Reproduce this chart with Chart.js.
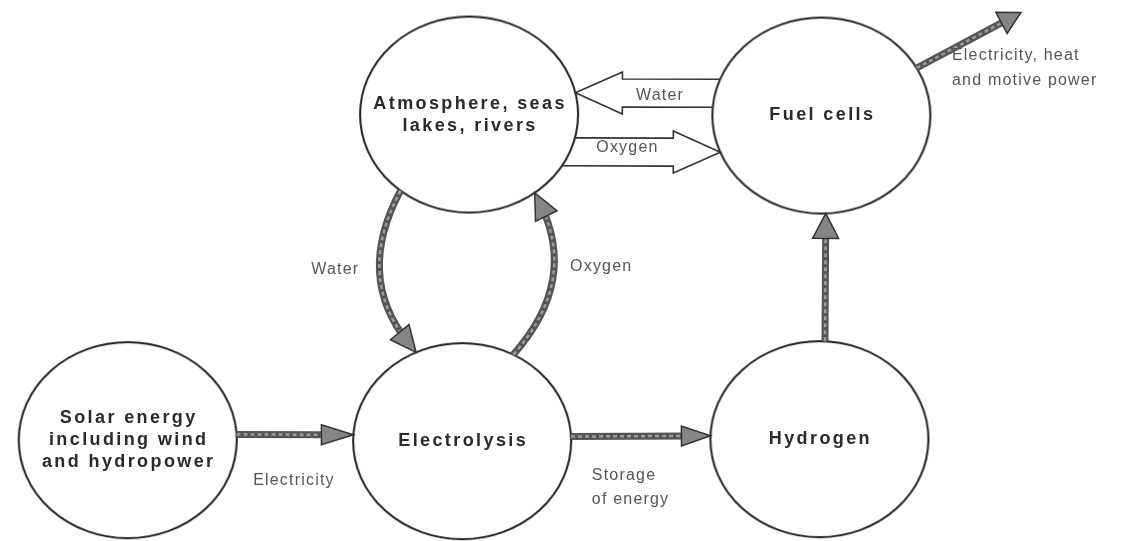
<!DOCTYPE html>
<html>
<head>
<meta charset="utf-8">
<script src="https://cdn.jsdelivr.net/npm/chart.js@4.4.1/dist/chart.umd.min.js"></script>
<style>
  html, body { margin: 0; padding: 0; background: #fff; }
  #wrap { width: 1146px; height: 541px; position: relative; }
</style>
</head>
<body>
<div id="wrap"><canvas id="cycle"></canvas></div>
<script>
// nodes of the cycle (page units, y grows downwards)
const nodeNames = [['Atmosphere, seas', 'lakes, rivers'], ['Fuel cells'], ['Solar energy', 'including wind', 'and hydropower'], ['Electrolysis'], ['Hydrogen']];
const nodeX = [468, 824, 123, 461, 822];
const nodeY = [111, 112, 444, 445, 443];

// flows: from node -> to node (null = leaves the diagram)
const flowFrom = [1, 0, 2, 3, 4, 0, 3, 1];
const flowTo = [0, 1, 3, 4, 1, 3, 0, null];
const flowKind = ['hollow', 'hollow', 'straight', 'straight', 'straight', 'curve', 'curve', 'out'];

// flow labels
const noteText = ['Water', 'Oxygen', 'Electricity', 'Storage', 'of energy', 'Water', 'Oxygen', 'Electricity, heat', 'and motive power'];

document.addEventListener('DOMContentLoaded', function () {
    const RX = 109, RY = 98;
    const lineCol = '#1e1e1e';
    const textCol = '#555';

    // geometry of each flow, same order as flowFrom
    const flowGeom = [
        { offset: 22 },
        { offset: 37 },
        { offset: -6, head: [32, 10] },
        { offset: -4, head: [29, 10] },
        { offset: 5, head: [25, 13] },
        { a1: 129, a2: 245, bend: -54, head: [26, 12] },
        { a1: 298, a2: 53, bend: -55, head: [26, 12] },
        { a1: -29, dir: -28, len: 118, head: [22, 12] }
    ];
    const notePos = [
        [661, 92, 'center'], [628, 145, 'center'], [291, 485, 'center'],
        [592, 480, 'left'], [592, 505, 'left'], [357, 270, 'right'],
        [570, 267, 'left'], [956, 51, 'left'], [956, 76, 'left']
    ];

    // ellipse used as the point style of every node
    const ring = document.createElement('canvas');
    ring.width = RX * 2 + 4;
    ring.height = RY * 2 + 4;
    const rc = ring.getContext('2d');
    rc.strokeStyle = lineCol;
    rc.lineWidth = 2;
    rc.beginPath();
    rc.ellipse(ring.width / 2, ring.height / 2, RX, RY, 0, 0, Math.PI * 2);
    rc.stroke();

    const ellipseHit = (cx, cy, px, py, ux, uy) => {
        const ax = ux / RX, ay = uy / RY;
        const bx = (px - cx) / RX, by = (py - cy) / RY;
        const A = ax * ax + ay * ay;
        const B = 2 * (ax * bx + ay * by);
        const C = bx * bx + by * by - 1;
        const disc = Math.sqrt(Math.max(0, B * B - 4 * A * C));
        return [(-B - disc) / (2 * A), (-B + disc) / (2 * A)];
    };

    const drawHead = (ctx, tx, ty, ux, uy, len, half) => {
        const bx = tx - ux * len, by = ty - uy * len;
        ctx.save();
        ctx.beginPath();
        ctx.moveTo(tx, ty);
        ctx.lineTo(bx - uy * half, by + ux * half);
        ctx.lineTo(bx + uy * half, by - ux * half);
        ctx.closePath();
        ctx.fillStyle = '#858585';
        ctx.fill();
        ctx.strokeStyle = '#333';
        ctx.lineWidth = 1.5;
        ctx.stroke();
        ctx.restore();
    };

    const thickShaft = (ctx, path) => {
        ctx.save();
        ctx.lineCap = 'butt';
        ctx.strokeStyle = '#555';
        ctx.lineWidth = 7;
        path();
        ctx.stroke();
        ctx.strokeStyle = '#9c9c9c';
        ctx.lineWidth = 2.5;
        ctx.setLineDash([4, 3]);
        path();
        ctx.stroke();
        ctx.restore();
    };

    const flowPlugin = {
        id: 'flows',
        afterDatasetsDraw(chart) {
            const ctx = chart.ctx;
            const sx = chart.scales.x, sy = chart.scales.y;
            const px = i => sx.getPixelForValue(nodeX[i]);
            const py = i => sy.getPixelForValue(nodeY[i]);
            const onRing = (i, deg) => {
                const r = deg * Math.PI / 180;
                return [px(i) + RX * Math.cos(r), py(i) + RY * Math.sin(r)];
            };

            flowKind.forEach((kind, k) => {
                const g = flowGeom[k];
                const a = flowFrom[k], b = flowTo[k];

                if (kind === 'hollow' || kind === 'straight') {
                    let ux = px(b) - px(a), uy = py(b) - py(a);
                    const l = Math.hypot(ux, uy);
                    ux /= l; uy /= l;
                    const nx = -uy, ny = ux;
                    const line = d => {
                        const ox = px(a) + nx * d, oy = py(a) + ny * d;
                        const t0 = ellipseHit(px(a), py(a), ox, oy, ux, uy)[1];
                        const t1 = ellipseHit(px(b), py(b), ox, oy, ux, uy)[0];
                        return [ox + ux * t0, oy + uy * t0, ox + ux * t1, oy + uy * t1];
                    };
                    if (kind === 'hollow') {
                        const body = 14, half = 21, len = 47;
                        const mid = line(g.offset);
                        const tx = mid[2], ty = mid[3];
                        const bx = tx - ux * len, by = ty - uy * len;
                        const e1 = line(g.offset - body), e2 = line(g.offset + body);
                        const pts = [
                            [e1[0], e1[1]],
                            [bx - nx * body, by - ny * body],
                            [bx - nx * half, by - ny * half],
                            [tx, ty],
                            [bx + nx * half, by + ny * half],
                            [bx + nx * body, by + ny * body],
                            [e2[0], e2[1]]
                        ];
                        ctx.save();
                        ctx.beginPath();
                        pts.forEach((p, i) => i ? ctx.lineTo(p[0], p[1]) : ctx.moveTo(p[0], p[1]));
                        ctx.strokeStyle = '#333';
                        ctx.lineWidth = 1.6;
                        ctx.lineJoin = 'miter';
                        ctx.stroke();
                        ctx.restore();
                    } else {
                        const s = line(g.offset);
                        const len = g.head[0];
                        thickShaft(ctx, () => {
                            ctx.beginPath();
                            ctx.moveTo(s[0], s[1]);
                            ctx.lineTo(s[2] - ux * len * 0.8, s[3] - uy * len * 0.8);
                        });
                        drawHead(ctx, s[2], s[3], ux, uy, len, g.head[1]);
                    }
                } else if (kind === 'curve') {
                    const p0 = onRing(a, g.a1), p2 = onRing(b, g.a2);
                    let dx = p2[0] - p0[0], dy = p2[1] - p0[1];
                    const l = Math.hypot(dx, dy);
                    dx /= l; dy /= l;
                    const c = [(p0[0] + p2[0]) / 2 + dy * g.bend, (p0[1] + p2[1]) / 2 - dx * g.bend];
                    let ux = p2[0] - c[0], uy = p2[1] - c[1];
                    const ul = Math.hypot(ux, uy);
                    ux /= ul; uy /= ul;
                    thickShaft(ctx, () => {
                        ctx.beginPath();
                        ctx.moveTo(p0[0], p0[1]);
                        ctx.quadraticCurveTo(c[0], c[1], p2[0] - ux * 12, p2[1] - uy * 12);
                    });
                    drawHead(ctx, p2[0], p2[1], ux, uy, g.head[0], g.head[1]);
                } else {
                    const p0 = onRing(a, g.a1);
                    const r = g.dir * Math.PI / 180;
                    const ux = Math.cos(r), uy = Math.sin(r);
                    const tx = p0[0] + ux * g.len, ty = p0[1] + uy * g.len;
                    thickShaft(ctx, () => {
                        ctx.beginPath();
                        ctx.moveTo(p0[0], p0[1]);
                        ctx.lineTo(tx - ux * 14, ty - uy * 14);
                    });
                    drawHead(ctx, tx, ty, ux, uy, g.head[0], g.head[1]);
                }
            });

            // node names
            ctx.save();
            ctx.fillStyle = '#2a2a2a';
            ctx.font = 'bold 18px "Liberation Sans", Arial, sans-serif';
            ctx.letterSpacing = '2.4px';
            ctx.textAlign = 'center';
            ctx.textBaseline = 'middle';
            nodeNames.forEach((lines, i) => {
                const top = py(i) - (lines.length - 1) * 11;
                lines.forEach((t, j) => ctx.fillText(t, px(i) + 1, top + j * 22));
            });
            ctx.restore();

            // flow labels
            ctx.save();
            ctx.fillStyle = textCol;
            ctx.font = '16px "Liberation Sans", Arial, sans-serif';
            ctx.letterSpacing = '1.2px';
            ctx.textBaseline = 'middle';
            noteText.forEach((t, i) => {
                const p = notePos[i];
                ctx.textAlign = p[2];
                ctx.fillText(t, sx.getPixelForValue(p[0]), sy.getPixelForValue(p[1]));
            });
            ctx.restore();
        }
    };

    new Chart(document.getElementById('cycle').getContext('2d'), {
        type: 'scatter',
        data: {
            datasets: [{
                data: nodeX.map((x, i) => ({ x: x, y: nodeY[i] })),
                pointStyle: ring,
                pointRadius: 5,
                pointHoverRadius: 5,
                clip: false
            }]
        },
        options: {
            responsive: true,
            maintainAspectRatio: false,
            animation: false,
            events: [],
            layout: { padding: 0 },
            plugins: { legend: { display: false }, tooltip: { enabled: false } },
            scales: {
                x: { type: 'linear', min: 0, max: 1146, display: false },
                y: { type: 'linear', min: 0, max: 541, reverse: true, display: false }
            }
        },
        plugins: [flowPlugin]
    });
});
</script>
</body>
</html>
